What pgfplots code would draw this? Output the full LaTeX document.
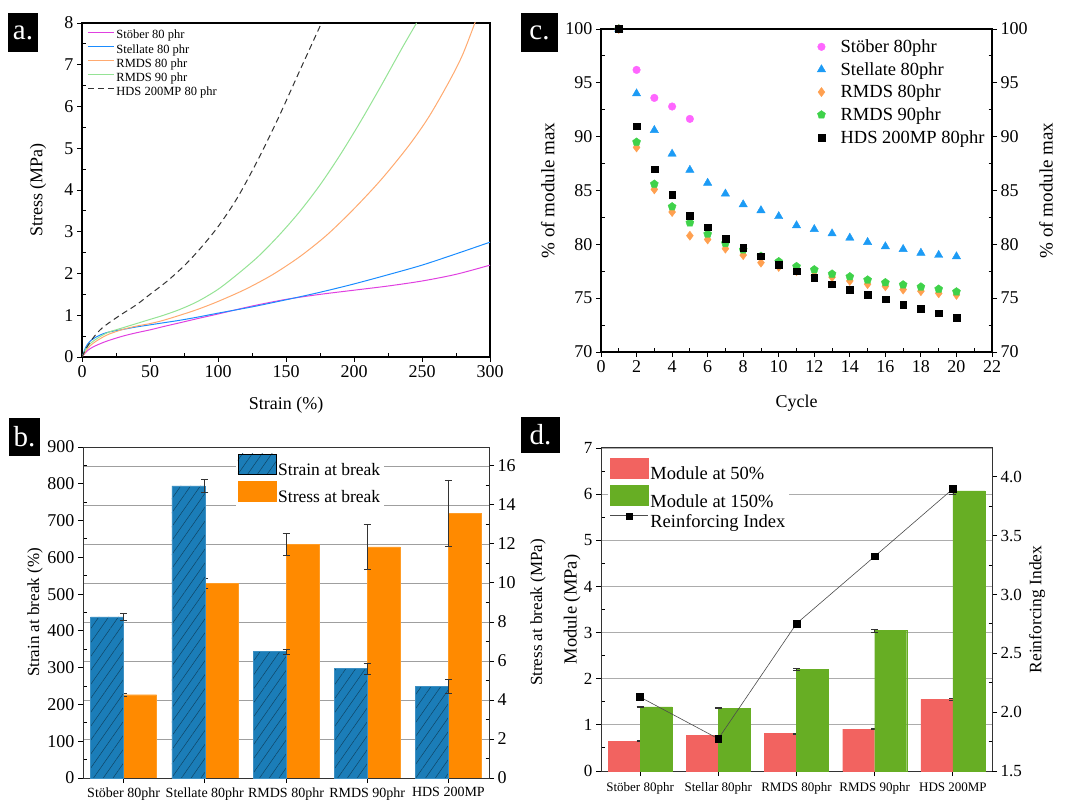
\documentclass[border=0pt]{standalone}
\usepackage{fontspec}
\setmainfont{Liberation Serif}
\usepackage{pgfplots}
\usepackage{pgfplotstable}
\pgfplotsset{compat=1.18}
\usetikzlibrary{patterns.meta}

\definecolor{cmag}{HTML}{E040E0}
\definecolor{cblue}{HTML}{1A8CFF}
\definecolor{corg}{HTML}{FFAA70}
\definecolor{cgrn}{HTML}{95E395}
\definecolor{mpink}{HTML}{FF66FF}
\definecolor{mtri}{HTML}{1C9BF5}
\definecolor{mdia}{HTML}{FFA050}
\definecolor{mpent}{HTML}{3FD24A}
\definecolor{barblue}{HTML}{1B7DB8}
\definecolor{barorg}{HTML}{FF8A00}
\definecolor{barred}{HTML}{F26360}
\definecolor{bargrn}{HTML}{67AE24}

% panel b: strain / stress at break
\pgfplotstableread{
x strain estrain stress estress
0 438 10 4.27 0.09
1 794 17 9.97 0.26
2 344 7 11.99 0.55
3 298 15 11.85 1.15
4 249 19 13.57 1.71
}\datab

% panel d: modules and reinforcing index
\pgfplotstableread{
x mfifty efifty mhundred ehundred ri
0 0.65 0.005 1.39 0.01 2.128
1 0.77 0.01 1.364 0.005 1.774
2 0.815 0.01 2.21 0.02 2.753
3 0.91 0.005 3.045 0.03 3.324
4 1.55 0.02 6.07 0.08 3.898
}\datad

\newcommand{\lab}{\fontsize{18}{20}\selectfont}
\newcommand{\lineimg}[1]{\addlegendimage{legend image code/.code={\draw[#1] (0pt,3pt) -- (26pt,3pt);}}}
\pgfplotsset{
  base/.style={scale only axis, anchor=south west,
    axis line style={line width=1.1pt, black},
    tick style={line width=0.9pt, black},
    major tick length=5pt, minor tick length=-3.5pt,
    /pgf/number format/assume math mode=true,
    tick label style={font=\lab},
  },
  ebar/.style={error bars/y dir=both, error bars/y explicit,
    error bars/error bar style={line width=0.7pt, black!80},
    error bars/error mark options={rotate=90, line width=0.7pt, mark size=3.5pt, black!80}},
}

\begin{document}
\begin{tikzpicture}
\useasboundingbox (0pt,0pt) rectangle (1067pt,800pt);

% ---------------- a. stress-strain curves
\begin{axis}[base, at={(82pt,443pt)}, width=408pt, height=334pt,
  xmin=0, xmax=300, ymin=0, ymax=8,
  xtick={0,50,...,300}, ytick={0,...,8},
  minor x tick num=1, minor y tick num=1,
  tick pos=left, tick align=outside,
  xlabel={Strain (\%)}, ylabel={Stress (MPa)},
  every axis x label/.style={at={(axis description cs:0.5,-0.144)}, anchor=center, font=\lab},
  every axis y label/.style={at={(axis description cs:-0.108,0.5)}, rotate=90, anchor=center, font=\lab},
  legend style={at={(axis description cs:0.005,0.991)}, anchor=north west,
    draw=none, fill=none, font=\fontsize{12.5}{14.5}\selectfont, row sep=0pt},
  legend cell align=left,
]
\addplot[forget plot, color=cmag, line width=1pt, smooth] coordinates {
(0,0) (3,0.12) (6,0.2) (10,0.27) (15,0.34) (20,0.4) (30,0.5) (40,0.58) (50,0.65)
(60,0.73) (72,0.82) (85,0.92) (100,1.03) (125,1.22) (150,1.38) (175,1.5) (200,1.6)
(225,1.7) (250,1.82) (275,1.98) (300,2.2)};
\addplot[forget plot, color=cblue, line width=1pt, smooth] coordinates {
(0,0) (3,0.25) (6,0.38) (10,0.47) (15,0.55) (20,0.6) (30,0.66) (40,0.72) (50,0.77)
(60,0.82) (72,0.88) (85,0.955) (100,1.05) (125,1.2) (150,1.37) (175,1.55) (200,1.75)
(225,1.97) (250,2.2) (275,2.47) (300,2.75)};
\addplot[forget plot, color=corg, line width=1pt, smooth] coordinates {
(0,0) (3,0.15) (6,0.27) (10,0.37) (15,0.47) (20,0.55) (30,0.66) (40,0.74) (50,0.8)
(60,0.88) (72,1.0) (85,1.14) (100,1.33) (120,1.62) (140,1.97) (160,2.4) (180,2.92)
(200,3.55) (220,4.25) (240,5.05) (255,5.75) (270,6.6) (280,7.25) (290,8.1)};
\addplot[forget plot, color=cgrn, line width=1pt, smooth] coordinates {
(0,0) (3,0.2) (6,0.32) (10,0.42) (15,0.52) (20,0.6) (30,0.7) (40,0.8) (50,0.9)
(60,1.0) (72,1.14) (85,1.33) (100,1.62) (115,2.0) (130,2.42) (145,2.92) (160,3.48)
(175,4.12) (190,4.85) (205,5.65) (220,6.5) (235,7.38) (246,8.0)};
\addplot[forget plot, color=black!80, line width=1pt, dash pattern=on 6pt off 4pt, smooth] coordinates {
(0,0) (3,0.2) (8,0.45) (15,0.7) (28,1.0) (40,1.25) (50,1.5) (62,1.8) (75,2.18)
(87,2.6) (100,3.12) (114,3.8) (129,4.7) (144,5.7) (160,6.85) (177.5,8.1)};
\lineimg{cmag, line width=1.2pt}
\addlegendentry{Stöber 80 phr}
\lineimg{cblue, line width=1.2pt}
\addlegendentry{Stellate 80 phr}
\lineimg{corg, line width=1.2pt}
\addlegendentry{RMDS 80 phr}
\lineimg{cgrn, line width=1.2pt}
\addlegendentry{RMDS 90 phr}
\lineimg{black!80, line width=1pt, dash pattern=on 6pt off 4pt}
\addlegendentry{HDS 200MP 80 phr}
\end{axis}

% ---------------- c. cyclic module retention
\begin{axis}[base, at={(601pt,448pt)}, width=391pt, height=323pt,
  xmin=0, xmax=22, ymin=70, ymax=100,
  xtick={0,2,...,22}, ytick={70,75,...,100},
  minor x tick num=1, minor y tick num=1,
  tick pos=left, tick align=outside,
  xlabel={Cycle}, ylabel={\% of module max},
  every axis x label/.style={at={(axis description cs:0.5,-0.158)}, anchor=center, font=\lab},
  every axis y label/.style={at={(axis description cs:-0.136,0.5)}, rotate=90, anchor=center, font=\fontsize{19}{21}\selectfont},
  legend style={at={(axis description cs:0.545,0.98)}, anchor=north west,
    draw=none, fill=none, font=\fontsize{18.5}{20}\selectfont, row sep=4.3pt,
    /tikz/every odd column/.append style={column sep=13pt}},
  legend cell align=left,
]
\addplot[only marks, mark=*, mark size=3.8pt, color=mpink] coordinates {
(1,100) (2,96.2) (3,93.6) (4,92.8) (5,91.65)};
\addlegendentry{Stöber 80phr}
\addplot[only marks, mark=triangle*, mark size=4.8pt, color=mtri] coordinates {
(1,100) (2,94.0) (3,90.6) (4,88.4) (5,86.9) (6,85.7) (7,84.7) (8,83.7) (9,83.15)
(10,82.6) (11,81.75) (12,81.4) (13,81.0) (14,80.6) (15,80.2) (16,79.8) (17,79.55)
(18,79.2) (19,79.0) (20,78.87)};
\addlegendentry{Stellate 80phr}
\addplot[only marks, mark=diamond*, mark size=4.6pt, color=mdia] coordinates {
(1,100) (2,89.0) (3,85.1) (4,83.0) (5,80.8) (6,80.45) (7,79.6) (8,79.0) (9,78.3)
(10,77.9) (11,77.5) (12,77.1) (13,76.95) (14,76.6) (15,76.3) (16,76.1) (17,75.8)
(18,75.65) (19,75.45) (20,75.3)};
\addlegendentry{RMDS 80phr}
\addplot[only marks, mark=pentagon*, mark size=4.2pt, color=mpent] coordinates {
(1,100) (2,89.5) (3,85.6) (4,83.5) (5,82.0) (6,80.95) (7,80.1) (8,79.5) (9,78.9)
(10,78.4) (11,77.95) (12,77.65) (13,77.25) (14,77.0) (15,76.7) (16,76.45) (17,76.25)
(18,76.05) (19,75.85) (20,75.6)};
\addlegendentry{RMDS 90phr}
\addplot[only marks, mark=square*, mark size=3.4pt, color=black] coordinates {
(1,100) (2,90.97) (3,86.97) (4,84.6) (5,82.65) (6,81.6) (7,80.5) (8,79.65) (9,78.9)
(10,78.1) (11,77.5) (12,76.9) (13,76.3) (14,75.8) (15,75.35) (16,74.9) (17,74.4)
(18,74.0) (19,73.6) (20,73.2)};
\addlegendentry{HDS 200MP 80phr}
\end{axis}
\begin{axis}[base, at={(601pt,448pt)}, width=391pt, height=323pt,
  xmin=0, xmax=22, ymin=70, ymax=100,
  axis x line=none, axis y line*=right, tick align=outside,
  ytick={70,75,...,100}, minor y tick num=1,
  ylabel={\% of module max},
  every axis y label/.style={at={(axis description cs:1.138,0.5)}, rotate=90, anchor=center, font=\fontsize{19}{21}\selectfont},
]
\addplot[draw=none] coordinates {(0,70)};
\end{axis}

% ---------------- b. strain and stress at break
\begin{axis}[base, at={(83pt,22pt)}, width=406pt, height=331pt,
  xmin=-0.5, xmax=4.5, ymin=0, ymax=16.97,
  axis x line=none, axis y line*=right, tick align=outside,
  axis line style={line width=1pt, black!80},
  ytick={0,2,...,16}, minor y tick num=1,
  ymajorgrids, major grid style={gray!75, line width=0.8pt},
  ylabel={Stress at break (MPa)},
  every axis y label/.style={at={(axis description cs:1.121,0.5)}, rotate=90, anchor=center, font=\fontsize{17}{19}\selectfont},
]
\addplot[ybar, bar width=33pt, bar shift=16.5pt, fill=barorg, draw=barorg!85!white, ebar]
  table[x=x, y=stress, y error=estress] {\datab};
\end{axis}
\begin{axis}[base, at={(83pt,22pt)}, width=406pt, height=331pt,
  xmin=-0.5, xmax=4.5, ymin=0, ymax=900,
  axis line style={line width=1pt, black!80},
  xtick={0,...,4}, xticklabels={Stöber 80phr, Stellate 80phr, RMDS 80phr, RMDS 90phr, HDS 200MP},
  x tick label style={font=\fontsize{14}{15}\selectfont, yshift=-1pt},
  ytick={0,100,...,900}, minor y tick num=1,
  tick pos=left, tick align=outside,
  ylabel={Strain at break (\%)},
  every axis y label/.style={at={(axis description cs:-0.118,0.5)}, rotate=90, anchor=center, font=\fontsize{17}{19}\selectfont},
  legend style={at={(axis description cs:0.377,0.985)}, anchor=north west,
    draw=none, fill=white, inner sep=1.5pt, font=\fontsize{17.5}{19}\selectfont, row sep=2pt},
  legend cell align=left,
]
\addplot[forget plot, ybar, bar width=33pt, bar shift=-16.5pt, fill=barblue, draw=barblue!85!white,
  postaction={pattern={Lines[angle=55, distance=8pt, line width=0.5pt]}, pattern color=black!45!barblue},
  ebar]
  table[x=x, y=strain, y error=estrain] {\datab};
\addlegendimage{legend image code/.code={
  \fill[barblue] (0pt,-4pt) rectangle (38pt,16pt);
  \fill[pattern={Lines[angle=55, distance=8pt, line width=0.5pt]}, pattern color=black!45!barblue] (0pt,-4pt) rectangle (38pt,16pt);}}
\addlegendentry{Strain at break}
\addlegendimage{legend image code/.code={\fill[barorg] (0pt,-4pt) rectangle (38pt,16pt);}}
\addlegendentry{Stress at break}
\end{axis}

% ---------------- d. modules and reinforcing index
\begin{axis}[base, at={(601pt,29pt)}, width=391pt, height=323pt,
  xmin=-0.5, xmax=4.5, ymin=0, ymax=7,
  axis line style={line width=1pt, black!80},
  xtick={0,...,4}, xticklabels={Stöber 80phr, Stellar 80phr, RMDS 80phr, RMDS 90phr, HDS 200MP},
  x tick label style={font=\fontsize{13}{15}\selectfont, yshift=-3pt},
  ytick={0,...,7}, minor y tick num=1,
  tick pos=left, tick align=outside,
  ymajorgrids, major grid style={gray!65, line width=0.8pt},
  y tick label style={font=\fontsize{17}{19}\selectfont},
  ylabel={Module (MPa)},
  every axis y label/.style={at={(axis description cs:-0.074,0.5)}, rotate=90, anchor=center, font=\fontsize{18.5}{20}\selectfont},
  legend style={at={(axis description cs:0.018,0.975)}, anchor=north west,
    draw=none, fill=white, inner sep=1.5pt, font=\fontsize{18.5}{20}\selectfont, row sep=2pt},
  legend cell align=left,
]
\addplot[forget plot, ybar, bar width=32pt, bar shift=-16pt, fill=barred, draw=barred, ebar]
  table[x=x, y=mfifty, y error=efifty] {\datad};
\addplot[forget plot, ybar, bar width=32pt, bar shift=16pt, fill=bargrn, draw=bargrn, ebar]
  table[x=x, y=mhundred, y error=ehundred] {\datad};
\addlegendimage{legend image code/.code={\fill[barred] (0pt,-4pt) rectangle (38pt,16pt);}}
\addlegendentry{Module at 50\%}
\addlegendimage{legend image code/.code={\fill[bargrn] (0pt,-4pt) rectangle (38pt,16pt);}}
\addlegendentry{Module at 150\%}
\addlegendimage{legend image code/.code={
  \draw[black!70, line width=0.6pt] (0pt,6pt) -- (38pt,6pt);
  \fill[black] (16pt,3pt) rectangle (22pt,9pt);}}
\addlegendentry{Reinforcing Index}
\end{axis}
\begin{axis}[base, at={(601pt,29pt)}, width=391pt, height=323pt,
  xmin=-0.5, xmax=4.5, ymin=1.5, ymax=4.245,
  axis x line=none, axis y line*=right, tick align=outside,
  axis line style={line width=1pt, black!80},
  ytick={1.5,2,...,4}, minor y tick num=1,
  yticklabel style={/pgf/number format/.cd, fixed, fixed zerofill, precision=1},
  tick label style={font=\fontsize{17}{19}\selectfont},
  ylabel={Reinforcing Index},
  every axis y label/.style={at={(axis description cs:1.115,0.5)}, rotate=90, anchor=center, font=\fontsize{17.5}{19}\selectfont},
]
\addplot[black!70, line width=0.6pt, mark=square*, mark size=3.4pt, mark options={black}]
  table[x=x, y=ri] {\datad};
\end{axis}

% panel tags
\node[fill=black, text=white, font=\fontsize{29}{29}\selectfont, minimum width=30pt, minimum height=39pt, inner sep=0pt] at (23pt,767.5pt) {a.};
\node[fill=black, text=white, font=\fontsize{29}{29}\selectfont, minimum width=31pt, minimum height=38pt, inner sep=0pt] at (24.5pt,363pt) {b.};
\node[fill=black, text=white, font=\fontsize{29}{29}\selectfont, minimum width=37pt, minimum height=39pt, inner sep=0pt] at (539.5pt,767.5pt) {c.};
\node[fill=black, text=white, font=\fontsize{29}{29}\selectfont, minimum width=39pt, minimum height=36pt, inner sep=0pt] at (540.5pt,365pt) {d.};
\end{tikzpicture}
\end{document}
